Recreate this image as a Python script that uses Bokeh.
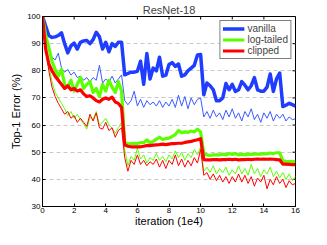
import math
from bokeh.plotting import figure
from bokeh.models import Range1d, FixedTicker, Legend, LegendItem
from bokeh.embed import file_html
from bokeh.resources import INLINE

iters = [round(i * 0.2, 1) for i in range(81)]

vanilla_thick = [100, 96.5, 93, 92.3, 92.5, 93, 94, 90, 86.6, 89.2,
                 90.2, 88, 90.5, 91, 91.2, 90, 91.5, 94.2, 92.5, 88,
                 90.5, 87, 90, 89, 90.5, 90.5, 78.5, 79, 79.5, 79.5,
                 79.8, 83.5, 75, 86.4, 77, 81, 80, 85, 78, 78.4,
                 82.3, 83, 81.6, 82.5, 78, 78.5, 80, 81, 82, 85.8,
                 86, 71.2, 75.5, 74.5, 73, 69, 69, 70, 75.3, 73,
                 75, 72.4, 73, 76, 74.7, 73, 74.5, 77.5, 73, 72.5,
                 72.5, 74, 78.8, 72.4, 77, 79.2, 66.8, 67.3, 68, 67.5,
                 67]
vanilla_thin = [100, 93, 88, 85, 84, 86.5, 81, 79.5, 80.5, 78.4,
                79.5, 77.5, 78, 76.5, 77.5, 76, 77.5, 76.5, 82, 75.5,
                77, 75.8, 78, 75.5, 77, 78.5, 69, 67.5, 69, 72.5,
                67, 69.5, 66.5, 69, 67.5, 68.5, 67, 69, 66.5, 68.5,
                67, 69.5, 66.5, 71, 67, 70.5, 66, 70, 67.5, 69.5,
                70, 63, 65, 62.5, 65.5, 63, 64.5, 62, 65.5, 63,
                66, 62.5, 64.5, 61.5, 65, 63, 66, 62, 64, 61,
                64.5, 62.5, 65, 61.5, 64, 62.5, 64, 61.5, 63, 62,
                62.3]
logtail_thick = [100, 93, 88.5, 83.5, 80.5, 78, 80.5, 75, 74, 76.5,
                 72.5, 75, 77.5, 73.5, 75, 76, 72, 73.5, 70.5, 75,
                 72.5, 76.5, 74, 72, 76, 72.5, 53.5, 53, 53.2, 53.3,
                 53.2, 53.5, 53.5, 54.5, 53.5, 54, 54.8, 55.5, 54.7, 55,
                 55.2, 55.8, 56.5, 58, 57.2, 57.5, 57.3, 57.8, 57.5, 58.5,
                 57.5, 49.5, 49, 48.8, 49, 49, 49, 49.3, 49, 49.5,
                 49.2, 49.5, 49, 49.2, 49, 49.3, 49.2, 49.4, 49.3, 49.3,
                 49.5, 49.4, 49.7, 49.5, 49.8, 49.8, 46.8, 46.6, 46.5, 46.5,
                 46.5]
logtail_thin = [100, 90, 82, 76, 72, 70, 68, 66, 63.5, 65,
                62.5, 64, 62, 60.5, 58.5, 63, 62, 65, 60, 61,
                62.5, 60, 59, 57, 59, 61, 51, 45, 48.5, 47,
                51.5, 47.5, 49, 46, 48, 47, 49.5, 47, 48.5, 46.5,
                49, 47.5, 50.5, 48, 50, 47, 49.5, 48, 51, 49,
                52, 43, 44.5, 42.5, 45, 42, 44, 42.5, 44.5, 41.5,
                43.5, 42, 45, 42, 44, 41.5, 45.5, 42, 44, 41,
                43.5, 42, 44.5, 41, 43, 40.5, 42.5, 40, 42, 39.5,
                41]
clipped_thick = [100, 88, 82.5, 80, 78, 76.5, 75, 73.5, 74.5, 73,
                 73.5, 72.5, 73, 71.5, 70.5, 70.8, 70, 69, 68.5, 69.5,
                 70, 69.5, 70.3, 68.5, 68, 66.5, 52.7, 52.2, 52, 52,
                 52, 52, 52.2, 52.5, 52.4, 52.6, 52.7, 52.8, 53, 52.8,
                 53, 53.2, 53.2, 53.3, 53.3, 53.6, 53.8, 54, 54.3, 54.6,
                 55, 47.3, 47.2, 47.2, 47.3, 47.3, 47.2, 47.3, 47.3, 47.4,
                 47.3, 47.4, 47.2, 47.3, 47.3, 47.4, 47.3, 47.4, 47.5, 47.4,
                 47.5, 47.4, 47.5, 47.4, 47.3, 47.2, 45.6, 45.6, 45.5, 45.4,
                 45.4]
clipped_thin = [100, 88, 80, 74, 70.5, 68, 66, 64, 65, 62.5,
                63.5, 61, 62.5, 61, 59.5, 64, 61.5, 64.5, 59, 58.5,
                61, 58, 59, 55.5, 58, 59, 48, 43, 47, 45.5,
                49, 45.5, 47, 45, 46.5, 45.5, 47.5, 44.5, 47, 44,
                47, 45.5, 49, 45, 47.5, 44.5, 47, 45, 48, 46,
                51, 41.5, 42.5, 40, 42, 39.5, 41.5, 39, 41, 38.5,
                41, 39, 42, 39, 41.5, 38.5, 41, 37.5, 40.5, 39,
                41.5, 36.5, 40, 38, 41, 38.5, 40, 37, 39.5, 38,
                38.5]

x_ticks = [0, 2, 4, 6, 8, 10, 12, 14, 16]
y_ticks = [30, 40, 50, 60, 70, 80, 90, 100]
x_min, x_max = 0, 16
y_min, y_max = 30, 100

FONT = "Liberation Sans"
BLUE = "#1f3dff"
BLUE_THIN = "#3a5cff"
GREEN = "#5cff00"
RED = "#ff0000"

p = figure(width=311, height=229, output_backend="svg", toolbar_location=None,
           x_range=Range1d(x_min, x_max), y_range=Range1d(y_min, y_max),
           title="ResNet-18",
           min_border_left=42, min_border_right=16, min_border_top=2, min_border_bottom=0)

p.title.align = "center"
p.title.text_font = FONT
p.title.text_font_size = "11px"
p.title.text_font_style = "normal"
p.title.standoff = 2
p.title.offset = 0

p.outline_line_color = "black"
p.outline_line_alpha = 1.0
p.background_fill_color = "white"
p.border_fill_color = "white"

p.xgrid.grid_line_color = None
p.ygrid.ticker = FixedTicker(ticks=y_ticks)
p.ygrid.grid_line_color = "#c8c8c8"
p.ygrid.grid_line_dash = "4 3"
p.ygrid.grid_line_width = 1

for ax in p.xaxis:
    ax.ticker = FixedTicker(ticks=x_ticks)
for ax in p.yaxis:
    ax.ticker = FixedTicker(ticks=y_ticks)

for ax in p.xaxis + p.yaxis:
    ax.major_tick_in = 3
    ax.major_tick_out = 0
    ax.minor_tick_in = 0
    ax.minor_tick_out = 0
    ax.axis_line_color = "black"
    ax.major_tick_line_color = "black"
    ax.major_label_text_font = FONT
    ax.major_label_text_font_size = "8px"
    ax.major_label_text_color = "black"
    ax.major_label_standoff = 2
    ax.axis_label_text_font = FONT
    ax.axis_label_text_font_size = "11px"
    ax.axis_label_text_font_style = "normal"
    ax.axis_label_text_color = "black"
    ax.axis_label_standoff = 2

for ax in p.xaxis:
    ax.major_label_standoff = 1
    ax.axis_label_standoff = -1

p.xaxis.axis_label = "iteration (1e4)"
p.yaxis.axis_label = "Top-1 Error (%)"

# inward ticks on the top and right frame edges (MATLAB box style)
p.ray(x=x_ticks, y=[y_max] * len(x_ticks), length=3, length_units="screen",
      angle=-math.pi / 2, line_color="black", line_width=1)
p.ray(x=[x_max] * len(y_ticks), y=y_ticks, length=3, length_units="screen",
      angle=math.pi, line_color="black", line_width=1)

p.line(iters, vanilla_thin, line_color=BLUE_THIN, line_width=1)
r_v = p.line(iters, vanilla_thick, line_color=BLUE, line_width=3.5, line_join="round")
p.line(iters, logtail_thin, line_color=GREEN, line_width=1)
r_g = p.line(iters, logtail_thick, line_color=GREEN, line_width=3.2, line_join="round")
p.line(iters, clipped_thin, line_color=RED, line_width=1)
r_c = p.line(iters, clipped_thick, line_color=RED, line_width=3.2, line_join="round")

legend = Legend(items=[LegendItem(label="vanilla", renderers=[r_v]),
                       LegendItem(label="log-tailed", renderers=[r_g]),
                       LegendItem(label="clipped", renderers=[r_c])],
                location="top_right")
legend.label_text_font = FONT
legend.label_text_font_size = "10px"
legend.label_standoff = 3
legend.label_height = 10
legend.glyph_height = 11
legend.glyph_width = 22
legend.spacing = 0
legend.padding = 2
legend.margin = 4
legend.border_line_color = "black"
legend.border_line_width = 1
legend.background_fill_alpha = 1.0
p.add_layout(legend)

html = file_html(p, INLINE)
open("out.html", "w").write(html)
